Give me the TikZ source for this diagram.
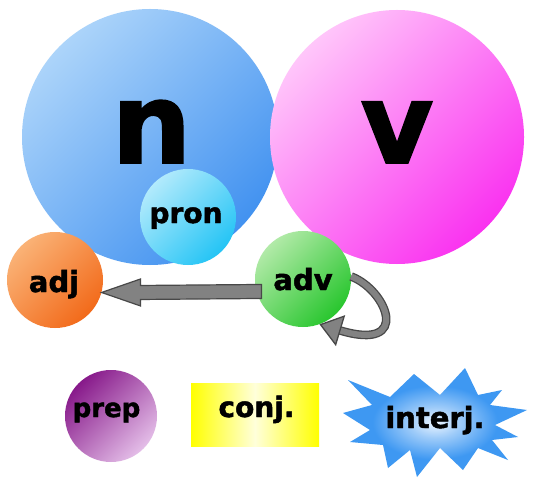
\documentclass[tikz,border=0pt]{standalone}
\usepackage{fontspec}
\setmainfont{DejaVu Sans}[BoldFeatures={FakeBold=1.6}]
\usetikzlibrary{arrows.meta,calc}
\definecolor{nA}{RGB}{172,212,250}
\definecolor{nB}{RGB}{66,146,240}
\definecolor{vA}{RGB}{255,198,250}
\definecolor{vB}{RGB}{250,50,240}
\definecolor{pA}{RGB}{178,234,252}
\definecolor{pB}{RGB}{36,196,245}
\definecolor{aA}{RGB}{250,178,118}
\definecolor{aB}{RGB}{242,106,26}
\definecolor{gA}{RGB}{178,234,168}
\definecolor{gB}{RGB}{40,198,46}
\definecolor{rA}{RGB}{135,25,138}
\definecolor{rB}{RGB}{228,190,232}
\definecolor{yA}{RGB}{255,255,0}
\definecolor{yB}{RGB}{255,255,218}
\definecolor{sA}{RGB}{236,245,255}
\definecolor{sB}{RGB}{62,152,242}
\definecolor{arrF}{RGB}{130,130,130}
\definecolor{arrD}{RGB}{72,72,72}
\pgfdeclareradialshading{starsh}{\pgfpoint{0bp}{0bp}}{color(0bp)=(sA); color(7bp)=(sA!55!sB); color(17bp)=(sB); color(50bp)=(sB)}
\begin{document}
\begin{tikzpicture}[x=1pt,y=-1pt,
  ball/.style={circle, inner sep=0pt, minimum size=#1},
  grad/.style 2 args={shading=axis, top color=#1, bottom color=#2, shading angle=45},
  lbl/.style={inner sep=0pt, anchor=base, font=\bfseries\fontsize{#1}{#1}\selectfont},
  bigarrow/.style={fill=arrF, draw=arrD, line width=1.2pt, line join=miter},
  curvy/.style={draw=arrD, double=arrF, double distance=6pt, line width=1.3pt,
    -{Triangle[length=22pt,width=32pt,fill=arrF]}},
]
\useasboundingbox[fill=white] (0,0) rectangle (534,478);

\node[ball=256pt, grad={nA}{nB}] (n) at (150,137) {};
\node[ball=254pt, grad={vA}{vB}] (v) at (397,137) {};
\node[lbl=112] (nT) at (151.5,163) {n};
\node[lbl=112] (vT) at (397,163) {v};

\node[ball=96pt, grad={pA}{pB}] (pron) at (188,217) {};
\node[lbl=28] (pronT) at (186,223) {pron};

\node[ball=96pt, grad={aA}{aB}] (adj) at (55,280) {};
\node[lbl=29] (adjT) at (54,292) {adj};

\node[ball=96pt, grad={gA}{gB}] (adv) at (303,279) {};
\node[lbl=29] (advT) at (303,290) {adv};

% straight arrow adv -> adj
\coordinate (tip) at (adj.-15);
\coordinate (tail) at (adv.-165);
\draw[bigarrow] (tip) -- ($(tip)+(39,-13.5)$) -- ($(tip)+(39,-7)$)
  -- ($(tail)+(5,-7)$) -- ($(tail)+(5,7)$) -- ($(tip)+(39,7)$)
  -- ($(tip)+(39,13.5)$) -- cycle;

% curved arrow adv -> adv
\draw[curvy] (adv.3) .. controls (387,290) and (412,352) .. (adv.-70);

% bottom row
\node[ball=92pt, grad={rA}{rB}] (prep) at (111,416) {};
\node[lbl=26] (prepT) at (106.5,417) {prep};

\node[rectangle, inner sep=0pt, minimum width=128pt, minimum height=63pt,
  left color=yA, right color=yA, middle color=yB] (conj) at (255,414.5) {};
\node[lbl=28] (conjT) at (256.5,417) {conj.};

\path[shading=starsh]
  (348,380) -- (390,397) -- (414,374) -- (440,395) -- (465,368) -- (478,395)
  -- (502,390) -- (490,405) -- (527,410) -- (495,425) -- (518,437) -- (492,440)
  -- (508,460) -- (478,448) -- (463,470) -- (440,448) -- (417,477) -- (410,450)
  -- (388,468) -- (383,445) -- (350,442) -- (370,430) -- (343,413) -- (372,405)
  -- cycle;
\node[lbl=29] (interjT) at (435,428) {interj.};
\end{tikzpicture}
\end{document}
